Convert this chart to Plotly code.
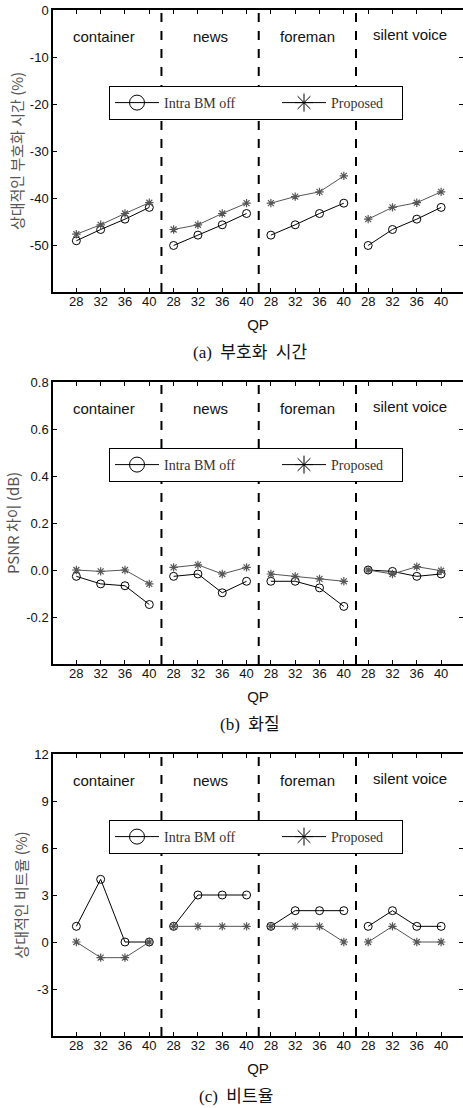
import plotly.graph_objects as go

# ---------------- data ----------------
qp_labels = ["28", "32", "36", "40"]
sequences = ["container", "news", "foreman", "silent voice"]

# (a) relative encoding time (%)
time_intra_off = [-49.1, -46.7, -44.5, -42.0,
                  -50.1, -47.9, -45.7, -43.3,
                  -47.9, -45.7, -43.3, -41.1,
                  -50.1, -46.7, -44.5, -42.0]
time_proposed = [-47.7, -45.7, -43.3, -41.0,
                 -46.7, -45.7, -43.3, -41.1,
                 -41.1, -39.7, -38.7, -35.3,
                 -44.5, -42.0, -41.0, -38.7]

# (b) PSNR difference (dB)
psnr_intra_off = [-0.027, -0.059, -0.067, -0.147,
                  -0.027, -0.017, -0.097, -0.048,
                  -0.048, -0.048, -0.076, -0.155,
                  0.000, -0.006, -0.027, -0.017]
psnr_proposed = [0.000, -0.006, 0.000, -0.059,
                 0.011, 0.022, -0.017, 0.011,
                 -0.017, -0.027, -0.038, -0.048,
                 0.000, -0.017, 0.014, -0.003]

# (c) relative bitrate (%)
rate_intra_off = [1, 4, 0, 0,
                  1, 3, 3, 3,
                  1, 2, 2, 2,
                  1, 2, 1, 1]
rate_proposed = [0, -1, -1, 0,
                 1, 1, 1, 1,
                 1, 1, 1, 0,
                 0, 1, 0, 0]

series_names = ["Intra BM off", "Proposed"]

time_ticks = [0, -10, -20, -30, -40, -50]
psnr_ticks = [0.8, 0.6, 0.4, 0.2, 0.0, -0.2]
rate_ticks = [12, 9, 6, 3, 0, -3]

W, H = 463, 1108
AXIS_LEFT = 53

panels = [
    dict(off=time_intra_off, prop=time_proposed, yrange=[-60, 0],
         ytickvals=time_ticks, ytickfmt="{:.0f}", ytitle="상대적인 부호화 시간 (%)",
         caption="(a)  부호화  시간", cap_x=250, dom=(10, 292), legend_top=86),
    dict(off=psnr_intra_off, prop=psnr_proposed, yrange=[-0.4, 0.8],
         ytickvals=psnr_ticks, ytickfmt="{:.1f}", ytitle="PSNR 차이 (dB)",
         caption="(b)  화질", cap_x=250, dom=(382, 664), legend_top=448),
    dict(off=rate_intra_off, prop=rate_proposed, yrange=[-6, 12],
         ytickvals=rate_ticks, ytickfmt="{:.0f}", ytitle="상대적인 비트율 (%)",
         caption="(c)  비트율", cap_x=236, dom=(754, 1036), legend_top=820),
]

fig = go.Figure()

n_seq = len(sequences)
n_qp = len(qp_labels)
xpos = [1 + g * n_qp + j for g in range(n_seq) for j in range(n_qp)]
tick_text = qp_labels * n_seq


def with_gaps(vals):
    xs, ys = [], []
    for g in range(n_seq):
        for j in range(n_qp):
            k = g * n_qp + j
            xs.append(xpos[k])
            ys.append(vals[k])
        xs.append(None)
        ys.append(None)
    return xs, ys


def hyphen_label(v, fmt):
    s = fmt.format(v)
    if s.startswith("-") and float(s) == 0:
        s = s[1:]
    return s


def py(page_y):
    return 1 - page_y / H


def px(page_x):
    return (page_x - AXIS_LEFT) / (W - AXIS_LEFT)


OFF_COLOR = "#000000"
PROP_COLOR = "#555555"
axis_font = dict(family="Liberation Sans, Arial", size=13, color="#111111")

annotations = []
for i, p in enumerate(panels):
    ax = "" if i == 0 else str(i + 1)
    xref = "x" + ax
    yref = "y" + ax
    legend_name = "legend" if i == 0 else "legend" + str(i + 1)

    xs, ys = with_gaps(p["off"])
    fig.add_trace(go.Scatter(
        x=xs, y=ys, mode="lines+markers", xaxis=xref, yaxis=yref,
        line=dict(color=OFF_COLOR, width=1),
        marker=dict(symbol="circle-open", size=8, color=OFF_COLOR, line=dict(width=1)),
        showlegend=False, name=series_names[0], connectgaps=False))
    xs, ys = with_gaps(p["prop"])
    fig.add_trace(go.Scatter(
        x=xs, y=ys, mode="lines+markers", xaxis=xref, yaxis=yref,
        line=dict(color=PROP_COLOR, width=1),
        marker=dict(symbol="asterisk-open", size=7, color=PROP_COLOR,
                    line=dict(width=1.2, color=PROP_COLOR)),
        showlegend=False, name=series_names[1], connectgaps=False))

    # legend entries (larger symbols like the original legend box)
    fig.add_trace(go.Scatter(
        x=[None], y=[None], mode="lines+markers", xaxis=xref, yaxis=yref,
        line=dict(color="#000000", width=1),
        marker=dict(symbol="circle-open", size=15, color="#000000", line=dict(width=1)),
        name=series_names[0], legend=legend_name, legendwidth=108))
    fig.add_trace(go.Scatter(
        x=[None], y=[None], mode="lines+markers", xaxis=xref, yaxis=yref,
        line=dict(color="#000000", width=1),
        marker=dict(symbol="asterisk-open", size=15, color="#000000", line=dict(width=1)),
        name=series_names[1], legend=legend_name, legendwidth=66))

    top, bot = p["dom"]
    ydom = [py(bot), py(top)]
    xaxis_key = "xaxis" + ax
    yaxis_key = "yaxis" + ax
    fig.layout[xaxis_key] = dict(
        domain=[0, 1], anchor=yref, range=[0.04, 16.9], automargin=False,
        tickmode="array", tickvals=xpos, ticktext=tick_text,
        ticks="inside", ticklen=4, tickwidth=1, tickcolor="#000",
        ticklabelstandoff=-4,
        showline=True, linecolor="#000", linewidth=2, mirror="ticks",
        showgrid=False, zeroline=False, tickfont=axis_font,
        title=dict(text="QP", font=dict(family="Liberation Sans, Arial", size=15, color="#111"),
                   standoff=12),
    )
    fig.layout[yaxis_key] = dict(
        domain=ydom, anchor=xref, range=p["yrange"], automargin=False,
        tickmode="array", tickvals=p["ytickvals"],
        ticktext=[hyphen_label(v, p["ytickfmt"]) for v in p["ytickvals"]],
        ticks="inside", ticklen=4, tickwidth=1, tickcolor="#000",
        showline=True, linecolor="#000", linewidth=1.5, mirror="ticks",
        showgrid=False, zeroline=False, tickfont=axis_font,
        title=dict(text=p["ytitle"], font=dict(family="Noto Sans CJK KR", size=15, color="#555"),
                   standoff=3),
    )

    # dashed separators between sequences
    for g in range(1, n_seq):
        xsep = g * n_qp + 0.5
        fig.add_shape(type="line", xref=xref, yref=yref + " domain",
                      x0=xsep, x1=xsep, y0=0, y1=1,
                      line=dict(color="#000", width=2, dash="dash"), layer="above")

    # sequence names
    for g, name in enumerate(sequences):
        cx = g * n_qp + 2.5
        annotations.append(dict(
            x=cx - (0.35 if g == 0 else 0) + (0.2 if g == 3 else 0),
            y=0.905 if g < 3 else 0.912,
            xref=xref, yref=yref + " domain", text=name, showarrow=False,
            font=dict(family="Liberation Sans, Arial", size=15, color="#111"),
            xanchor="center", yanchor="middle"))

    # caption
    annotations.append(dict(
        x=px(p["cap_x"]), y=py(bot + 60), xref="paper", yref="paper",
        text=p["caption"], showarrow=False,
        font=dict(family="Liberation Serif, Noto Sans CJK KR", size=17, color="#111"),
        xanchor="center", yanchor="middle"))

    fig.layout[legend_name] = dict(
        x=px(109), y=py(p["legend_top"]), xanchor="left", yanchor="top",
        orientation="h", bgcolor="white", bordercolor="black", borderwidth=1,
        font=dict(family="Liberation Serif, Times New Roman", size=14, color="#333"),
        itemwidth=44, entrywidthmode="pixels",
    )

fig.update_layout(
    width=W, height=H,
    margin=dict(l=AXIS_LEFT, r=0, t=0, b=0, autoexpand=False),
    plot_bgcolor="white", paper_bgcolor="white",
    annotations=annotations,
)

fig.write_html("out.html", config={"displayModeBar": False},
               post_script="document.body.style.margin='0px';")
